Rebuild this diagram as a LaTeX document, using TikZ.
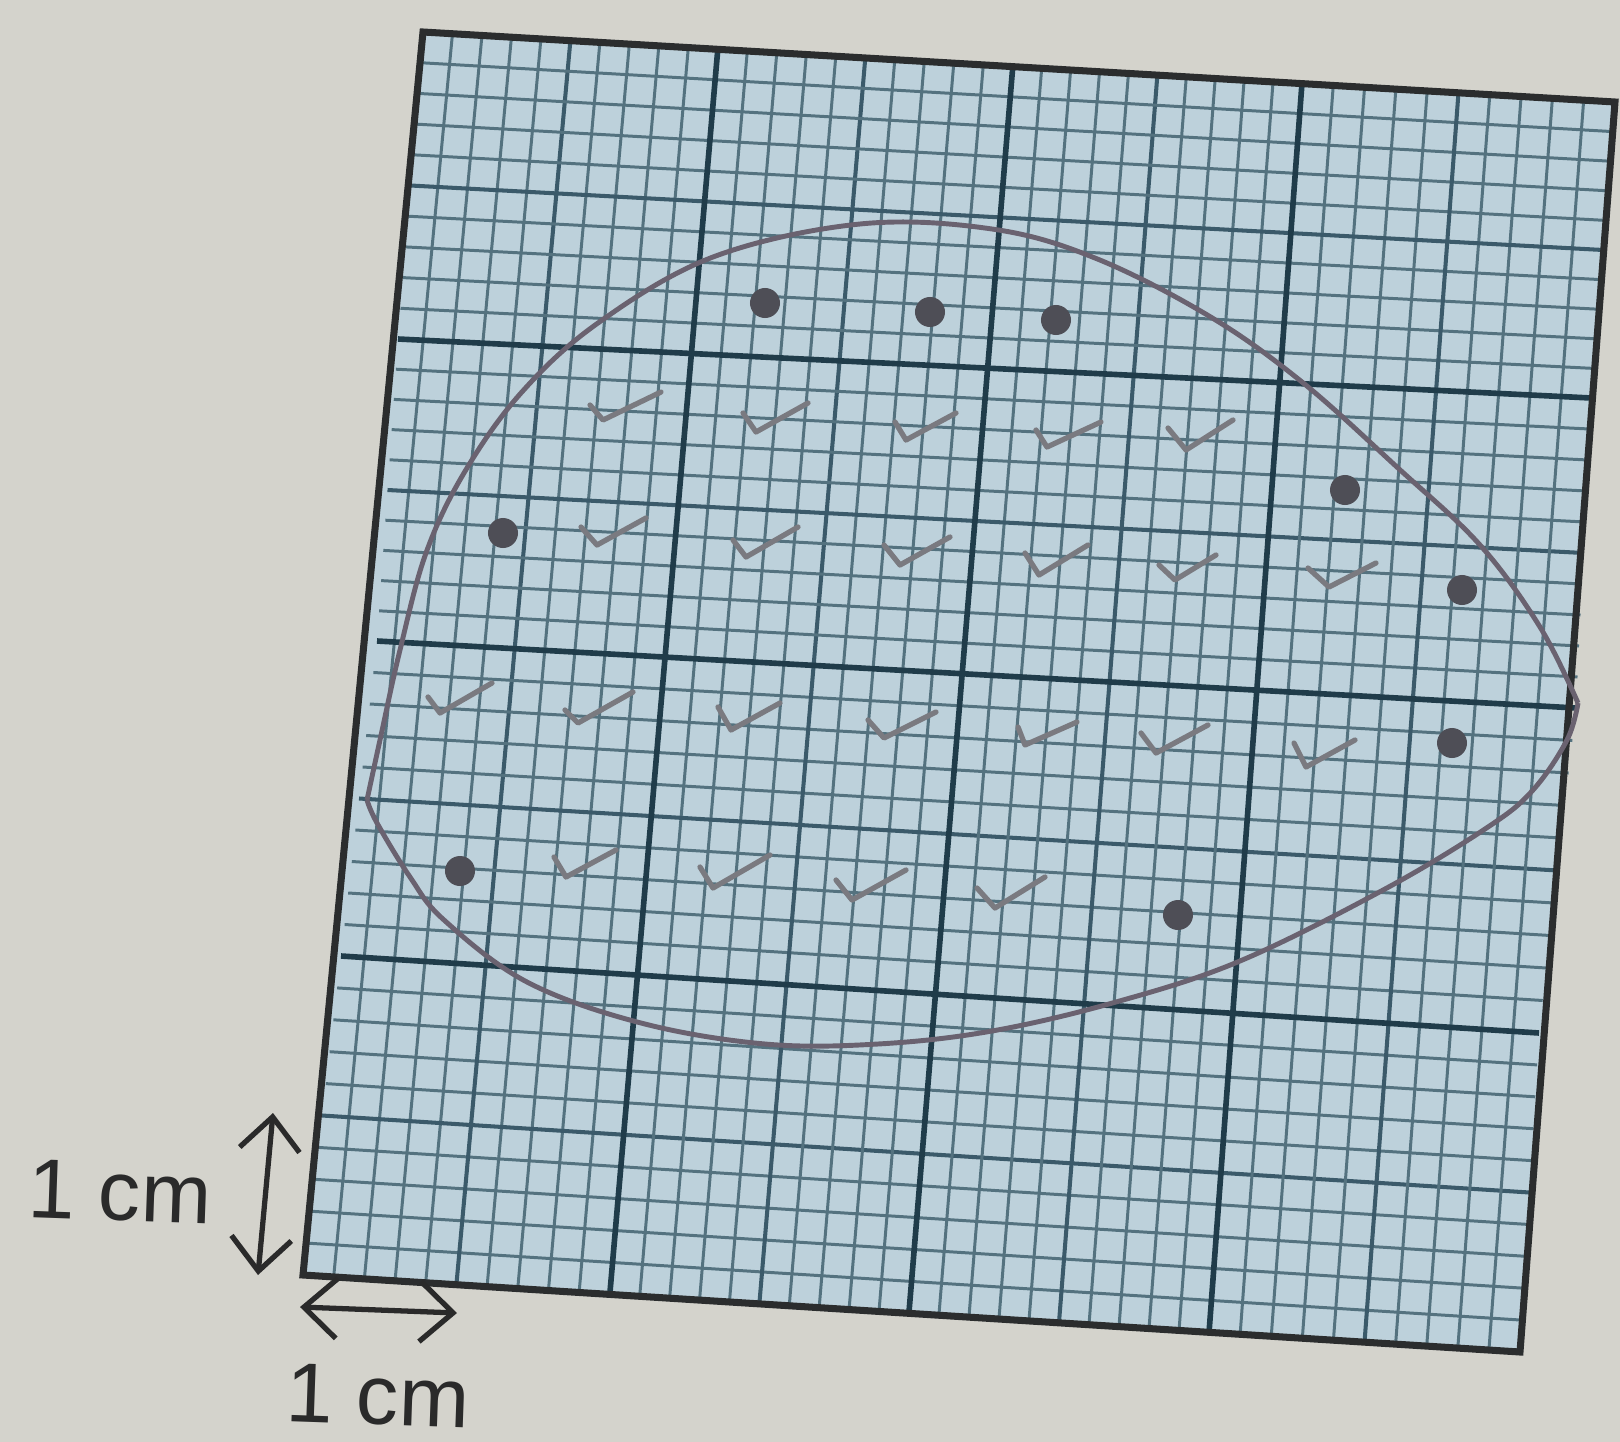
\documentclass[tikz,border=0pt]{standalone}
\usepackage{fontspec}
\setmainfont{Liberation Sans}
\usetikzlibrary{calc,arrows.meta}
\definecolor{paper}{HTML}{D4D3CC}
\definecolor{gridfill}{HTML}{BDD1DB}
\definecolor{gfine}{HTML}{54727F}
\definecolor{gmed}{HTML}{3B5A6A}
\definecolor{gthick}{HTML}{203C4A}
\definecolor{gborder}{HTML}{2B2D2E}
\definecolor{leafc}{HTML}{6A6270}
\definecolor{checkc}{HTML}{7A7A80}
\definecolor{dotc}{HTML}{4E4E56}
\definecolor{inkc}{HTML}{2A2A2A}
\begin{document}
\begin{tikzpicture}[x=0.01cm,y=-0.01cm,
  fineline/.style={gfine,line width=0.85pt},
  medline/.style={gmed,line width=1.15pt},
  thickline/.style={gthick,line width=1.6pt},
  borderline/.style={gborder,line width=2.0pt,line join=miter},
  leafline/.style={leafc,line width=1.4pt},
  checkmk/.style={checkc,line width=1.5pt,line cap=round,line join=round},
  dotmk/.style={fill=dotc},
  dimarrow/.style={inkc,line width=1.5pt,{Straight Barb[length=0.33cm,width=0.6cm]}-{Straight Barb[length=0.33cm,width=0.6cm]}},
  lbl/.style={inkc,inner sep=0pt,font=\fontsize{24pt}{28pt}\selectfont}]
\useasboundingbox (0,0) rectangle (1620,1442);
\fill[paper] (0,0) rectangle (1620,1442);
% grid control points (left/right ends of 2 cm lines, bottom/top ends)
\coordinate (L0) at (303,1275); \coordinate (L1) at (341,956);
\coordinate (L2) at (377,641);  \coordinate (L3) at (398,339);
\coordinate (L4) at (423,32);
\coordinate (R0) at (1520,1352); \coordinate (R1) at (1539,1033);
\coordinate (R2) at (1576,708);  \coordinate (R3) at (1591,398);
\coordinate (R4) at (1615,102);
\coordinate (B0) at (303,1275); \coordinate (B1) at (610,1292);
\coordinate (B2) at (909,1312); \coordinate (B3) at (1209,1333);
\coordinate (B4) at (1520,1352);
\coordinate (T0) at (423,32);   \coordinate (T1) at (718,47);
\coordinate (T2) at (1013,64);  \coordinate (T3) at (1302,83);
\coordinate (T4) at (1615,102);
\fill[gridfill] (L0) -- (R0) -- (R4) -- (L4) -- cycle;
\foreach \i/\j in {0/1,1/2,2/3,3/4} {
  \foreach \k in {1,2,3,4,6,7,8,9} {
    \draw[fineline] ($(L\i)!\k/10!(L\j)$) -- ($(R\i)!\k/10!(R\j)$);
    \draw[fineline] ($(B\i)!\k/10!(B\j)$) -- ($(T\i)!\k/10!(T\j)$);
  }
  \draw[medline] ($(L\i)!0.5!(L\j)$) -- ($(R\i)!0.5!(R\j)$);
  \draw[medline] ($(B\i)!0.5!(B\j)$) -- ($(T\i)!0.5!(T\j)$);
}
\foreach \i in {1,2,3} {
  \draw[thickline] (L\i) -- (R\i);
  \draw[thickline] (B\i) -- (T\i);
}
\draw[borderline] (L0) -- (R0) -- (R4) -- (L4) -- cycle;
% leaf outline
\coordinate (leftTip) at (367,800);
\coordinate (rightTip) at (1578,703);
\draw[leafline] plot[smooth,tension=0.6] coordinates {(367,800) (380,740) (400,650) (426,553) (464,473) (521,393) (598,323) (713,257) (860,224) (992,229) (1095,258) (1209,316) (1302,382) (1398,468) (1480,545) (1540,627) (1578,703)};
\draw[leafline] plot[smooth,tension=0.6] coordinates {(1578,703) (1567,740) (1533,790) (1488,827) (1385,889) (1240,961) (1116,1002) (992,1031) (878,1044) (765,1044) (641,1023) (527,982) (444,920) (410,877) (377,823) (367,800)};
% check marks
\draw[checkmk] (590,405) -- (603,420) -- (661,392);
\draw[checkmk] (743,413) -- (756,432) -- (808,403);
\draw[checkmk] (895,422) -- (906,440) -- (956,413);
\draw[checkmk] (1036,430) -- (1047,447) -- (1101,422);
\draw[checkmk] (1168,428) -- (1186,450) -- (1233,420);
\draw[checkmk] (581,527) -- (597,545) -- (646,518);
\draw[checkmk] (733,540) -- (746,557) -- (798,527);
\draw[checkmk] (884,545) -- (900,565) -- (950,537);
\draw[checkmk] (1025,553) -- (1039,575) -- (1088,545);
\draw[checkmk] (1159,565) -- (1175,580) -- (1216,555);
\draw[checkmk] (1308,568) -- (1329,587) -- (1376,563);
\draw[checkmk] (428,697) -- (440,713) -- (492,683);
\draw[checkmk] (565,710) -- (578,723) -- (633,692);
\draw[checkmk] (718,707) -- (731,730) -- (780,703);
\draw[checkmk] (868,720) -- (884,738) -- (936,712);
\draw[checkmk] (1018,727) -- (1025,745) -- (1077,722);
\draw[checkmk] (1141,733) -- (1156,753) -- (1208,725);
\draw[checkmk] (1294,743) -- (1306,767) -- (1355,740);
\draw[checkmk] (554,857) -- (566,877) -- (616,850);
\draw[checkmk] (700,867) -- (713,888) -- (770,855);
\draw[checkmk] (836,880) -- (852,900) -- (906,870);
\draw[checkmk] (977,888) -- (995,908) -- (1045,877);
% dots
\foreach \p in {(765,303),(930,312),(1056,320),(503,533),(1345,490),(1462,590),(1452,743),(460,871),(1178,915)}
  \fill[dotmk] \p circle[radius=0.15cm];
% dimension arrows and labels
\coordinate (va) at (273,1113); \coordinate (vb) at (258,1275);
\coordinate (ha) at (300,1307); \coordinate (hb) at (457,1313);
\draw[dimarrow] (va) -- (vb);
\draw[dimarrow] (ha) -- (hb);
\node[lbl,rotate=-2] (lblv) at (120,1192) {1 cm};
\node[lbl,rotate=-2] (lblh) at (378,1396) {1 cm};
\end{tikzpicture}
\end{document}
